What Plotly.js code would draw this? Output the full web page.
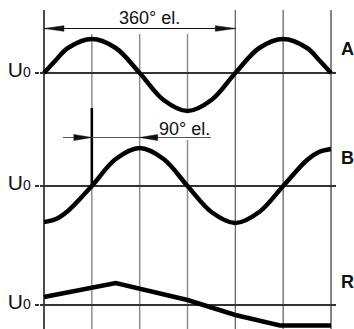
<!DOCTYPE html>
<html>
<head>
<meta charset="utf-8">
<script src="https://cdn.plot.ly/plotly-3.0.1.min.js"></script>
<style>html,body{margin:0;padding:0;background:#fff;}#chart{width:354px;height:329px;}</style>
</head>
<body>
<div id="chart"></div>
<script>
// ---- data (degrees el., offsets from U0 in px-like units, up = positive) ----
const phaseDeg = [0, 22.5, 45, 90, 135, 180, 225, 270, 315, 360, 405, 450, 495, 517.5, 540];
const signalA = [0, 13, 25, 34, 25, 0, -27, -38, -27, 0, 25, 34, 25, 13, 0];
const signalB = [-36, -33, -25, 0, 27, 38, 27, 0, -26, -37, -26, 0, 26, 34, 37];
const rDeg = [0, 135, 270, 360, 444, 540];
const signalR = [8, 22, 5, -10, -20.5, -20.5];
const gridDeg = [0, 90, 180, 270, 360, 450, 540];
const seriesLabels = ['A', 'B', 'R'];
const u0Label = 'U<span style="font-size:14px">0</span>';
const span360Label = '360° el.';
const span90Label = '90° el.';

// ---- geometry ----
const W = 354, H = 329, L = 40, Rm = 18;
const x0px = 44, degPerPx = 540 / (331 - 44);
const xRange = [-(x0px - L) * degPerPx, (W - Rm - x0px) * degPerPx];
function xp(px) { return (px - L) / (W - L - Rm); }
function yp(py) { return (H - py) / H; }
function yr(u0px) { return [-(H - u0px), u0px]; }
const font = 'Liberation Sans, Arial, sans-serif';
const ink = '#111';
const grey = '#8c8c8c';

const lineStyle = {color: '#000', width: 4.5};
const traces = [
  {x: phaseDeg, y: signalA, yaxis: 'y', mode: 'lines', line: Object.assign({shape: 'spline', smoothing: 1}, lineStyle), hoverinfo: 'skip'},
  {x: phaseDeg, y: signalB, yaxis: 'y2', mode: 'lines', line: Object.assign({shape: 'spline', smoothing: 1}, lineStyle), hoverinfo: 'skip'},
  {x: rDeg, y: signalR, yaxis: 'y3', mode: 'lines', line: Object.assign({shape: 'linear'}, lineStyle), hoverinfo: 'skip'}
];

function yax(u0px, extra) {
  return Object.assign({
    range: yr(u0px), fixedrange: true,
    showgrid: false, showline: false,
    zeroline: true, zerolinecolor: '#333', zerolinewidth: 1.3,
    tickmode: 'array', tickvals: [0], ticktext: [u0Label],
    ticks: 'outside', ticklen: 4, tickcolor: '#333', tickwidth: 1.3,
    ticklabelshift: -3, ticklabelstandoff: 0,
    tickfont: {family: font, size: 21, color: ink}
  }, extra || {});
}

// vertical grid lines: [deg, top px, bottom px, colour, width]
const vseg = [];
vseg.push([gridDeg[0], 10, 329, ink, 1.5]);
vseg.push([gridDeg[1], 34, 108, grey, 1.5]);
vseg.push([gridDeg[1], 108, 184, '#000', 2.6]);
vseg.push([gridDeg[1], 184, 329, grey, 1.5]);
vseg.push([gridDeg[2], 34, 329, grey, 1.5]);
vseg.push([gridDeg[3], 34, 112, grey, 1.5]);
vseg.push([gridDeg[3], 140, 329, grey, 1.5]);
vseg.push([gridDeg[4], 10, 329, '#666', 1.3]);
vseg.push([gridDeg[5], 10, 329, '#666', 1.3]);
vseg.push([gridDeg[6], 10, 329, '#444', 1.3]);

const shapes = vseg.map(s => ({
  type: 'line', layer: 'below', xref: 'x', yref: 'paper',
  x0: s[0], x1: s[0], y0: yp(s[1]), y1: yp(s[2]),
  line: {color: s[3], width: s[4]}
}));

// 360° dimension line
const y360 = 28.5;
shapes.push({type: 'line', xref: 'x', yref: 'paper', x0: gridDeg[0], x1: gridDeg[4], y0: yp(y360), y1: yp(y360), line: {color: ink, width: 1}});
function head(deg, ypx, dir, len, half) {
  // dir = -1 tip points left, +1 tip points right
  const b = -dir * len;
  return {type: 'path', xref: 'x', yref: 'paper', xsizemode: 'pixel', ysizemode: 'pixel',
    xanchor: deg, yanchor: yp(ypx),
    path: `M0,0 L${b},${half} L${b},${-half} Z`,
    fillcolor: ink, line: {color: ink, width: 0.5}};
}
shapes.push(head(gridDeg[0], y360, -1, 20, 2.8));
shapes.push(head(gridDeg[4], y360, 1, 20, 2.8));

// 90° dimension line
const y90 = 137.5;
shapes.push({type: 'line', xref: 'paper', yref: 'paper', x0: xp(63), x1: xp(211), y0: yp(y90), y1: yp(y90), line: {color: '#555', width: 1.2}});
shapes.push(head(gridDeg[1], y90, 1, 18, 3));
shapes.push(head(gridDeg[2], y90, -1, 18, 3));

const annotations = [
  {text: span360Label, xref: 'paper', yref: 'paper', x: xp(149), y: yp(18), xanchor: 'center', yanchor: 'middle', showarrow: false, font: {family: font, size: 18, color: ink}},
  {text: span90Label, xref: 'paper', yref: 'paper', x: xp(184), y: yp(128.5), xanchor: 'center', yanchor: 'middle', showarrow: false, font: {family: font, size: 18, color: ink}},
  {text: '<b>' + seriesLabels[0] + '</b>', xref: 'paper', yref: 'paper', x: xp(347.5), y: yp(49), xanchor: 'center', yanchor: 'middle', showarrow: false, font: {family: font, size: 18, color: ink}},
  {text: '<b>' + seriesLabels[1] + '</b>', xref: 'paper', yref: 'paper', x: xp(347.5), y: yp(157.5), xanchor: 'center', yanchor: 'middle', showarrow: false, font: {family: font, size: 18, color: ink}},
  {text: '<b>' + seriesLabels[2] + '</b>', xref: 'paper', yref: 'paper', x: xp(347.5), y: yp(281.5), xanchor: 'center', yanchor: 'middle', showarrow: false, font: {family: font, size: 18, color: ink}}
];

const layout = {
  width: W, height: H,
  margin: {l: L, r: Rm, t: 0, b: 0, pad: 0},
  paper_bgcolor: '#fff', plot_bgcolor: '#fff',
  showlegend: false,
  xaxis: {range: xRange, visible: false, fixedrange: true},
  yaxis: yax(73),
  yaxis2: yax(186, {overlaying: 'y', anchor: 'x', side: 'left'}),
  yaxis3: yax(305, {overlaying: 'y', anchor: 'x', side: 'left'}),
  shapes: shapes,
  annotations: annotations,
  font: {family: font, color: ink}
};

Plotly.newPlot('chart', traces, layout, {staticPlot: true, displayModeBar: false});
</script>
</body>
</html>
